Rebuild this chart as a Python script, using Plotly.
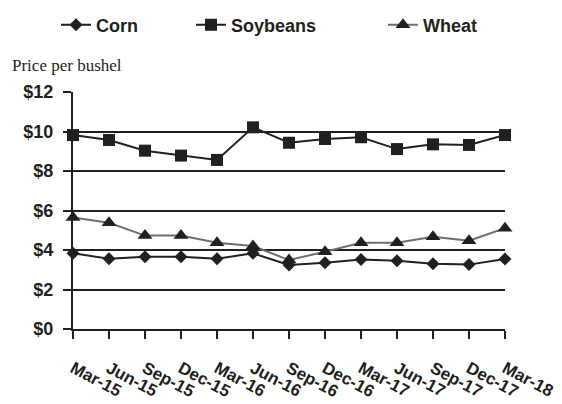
import plotly.graph_objects as go

# ---- data ----
categories = ["Mar-15", "Jun-15", "Sep-15", "Dec-15", "Mar-16", "Jun-16", "Sep-16",
              "Dec-16", "Mar-17", "Jun-17", "Sep-17", "Dec-17", "Mar-18"]
corn = [3.83, 3.56, 3.66, 3.66, 3.56, 3.83, 3.24, 3.36, 3.52, 3.45, 3.30, 3.26, 3.54]
soybeans = [9.82, 9.57, 9.03, 8.78, 8.56, 10.21, 9.43, 9.62, 9.71, 9.11, 9.35, 9.32, 9.82]
wheat = [5.64, 5.38, 4.73, 4.73, 4.37, 4.20, 3.49, 3.91, 4.37, 4.37, 4.67, 4.47, 5.10]
y_ticks = [0, 2, 4, 6, 8, 10, 12]
y_tick_labels = ["$" + str(v) for v in y_ticks]

INK = "#231f20"
GRAY = "#6d6e71"

# page body has an 8px margin; figure is sized to fill the rest of the window
OFF = 8
W, H = 562 - OFF, 404 - OFF
L = 73 - OFF
T = 92 - OFF
R = W - (505 - OFF)
B = H - (329 - OFF)
pw = W - L - R
ph = H - T - B

fig = go.Figure()
fig.add_trace(go.Scatter(
    x=categories, y=corn, name="Corn", mode="lines+markers",
    line=dict(color=INK, width=2),
    marker=dict(symbol="diamond", size=10, color=INK),
    cliponaxis=False, legendwidth=90))
fig.add_trace(go.Scatter(
    x=categories, y=soybeans, name="Soybeans", mode="lines+markers",
    line=dict(color=INK, width=2),
    marker=dict(symbol="square", size=12, color=INK),
    cliponaxis=False, legendwidth=147))
fig.add_trace(go.Scatter(
    x=categories, y=wheat, name="Wheat", mode="lines+markers",
    line=dict(color=GRAY, width=2),
    marker=dict(symbol="triangle-up", size=13, color=INK),
    cliponaxis=False))

fig.update_layout(
    width=W, height=H,
    margin=dict(l=L, r=R, t=T, b=B, pad=0, autoexpand=False),
    paper_bgcolor="white", plot_bgcolor="white",
    font=dict(family="Arial, Liberation Sans, sans-serif", color=INK),
    showlegend=True,
    legend=dict(
        orientation="h",
        x=(48 - L) / pw, xanchor="left",
        y=(H - B - 17) / ph, yanchor="middle",
        font=dict(size=18, family="Arial, Liberation Sans, sans-serif", weight="bold", color=INK),
        bgcolor="rgba(0,0,0,0)",
        traceorder="normal",
    ),
    xaxis=dict(
        type="category",
        categoryorder="array", categoryarray=categories,
        range=[0, len(categories) - 1],
        automargin=False,
        showgrid=False, zeroline=False,
        showline=True, linecolor=INK, linewidth=2,
        ticks="outside", ticklen=8, tickwidth=2, tickcolor=INK,
        tickangle=28,
        ticklabelstandoff=13,
        tickfont=dict(size=17, family="Arial, Liberation Sans, sans-serif", weight="bold", color=INK),
        fixedrange=True,
    ),
    yaxis=dict(
        range=[0, 12],
        automargin=False,
        tickmode="array", tickvals=y_ticks, ticktext=y_tick_labels,
        showgrid=True, gridcolor=INK, gridwidth=2,
        zeroline=False,
        showline=True, linecolor=INK, linewidth=2,
        ticks="outside", ticklen=8, tickwidth=2, tickcolor=INK,
        ticklabelstandoff=6,
        tickfont=dict(size=18, family="Arial, Liberation Sans, sans-serif", weight="bold", color=INK),
        fixedrange=True,
    ),
    annotations=[dict(
        text="Price per bushel", showarrow=False,
        xref="paper", yref="paper",
        x=(2 - L) / pw, xanchor="left",
        y=(H - B - 57) / ph, yanchor="middle",
        font=dict(family="Liberation Serif, Times New Roman, serif", size=17, color=INK),
    )],
)

fig.write_html("out.html")
